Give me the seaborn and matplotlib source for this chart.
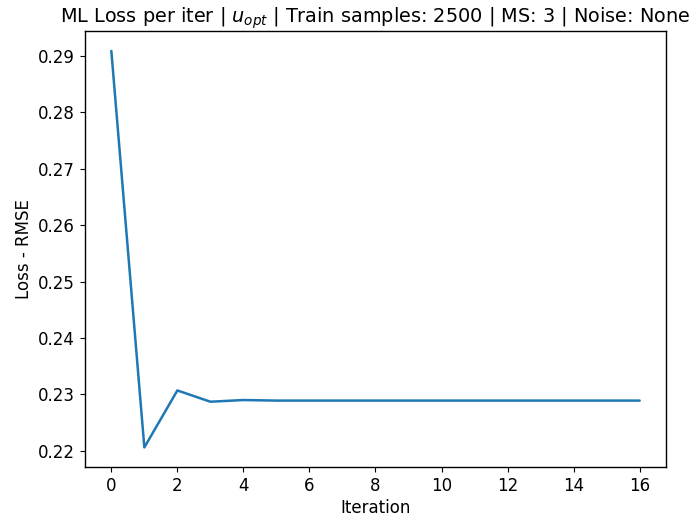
import numpy as np
import pandas as pd
import seaborn as sns
import matplotlib.pyplot as plt

# Loss values per iteration
iterations = list(range(17))
loss_rmse = [0.2909, 0.2206, 0.2307, 0.2287, 0.2290, 0.2289, 0.2289, 0.2289, 0.2289,
             0.2289, 0.2289, 0.2289, 0.2289, 0.2289, 0.2289, 0.2289, 0.2289]

data = pd.DataFrame({'Iteration': iterations, 'Loss': loss_rmse})

sns.set_style('ticks', {'text.color': 'black', 'axes.labelcolor': 'black',
                        'xtick.color': 'black', 'ytick.color': 'black',
                        'axes.edgecolor': 'black'})
plt.rcParams['font.family'] = ['DejaVu Sans']

fig, ax = plt.subplots(figsize=(6.96, 5.18), dpi=100)
sns.lineplot(x='Iteration', y='Loss', data=data, ax=ax, color='#1f77b4', linewidth=1.8)

ax.set_title(r'ML Loss per iter | $u_{opt}$ | Train samples: 2500 | MS: 3 | Noise: None',
             fontsize=13.9, color='black')
ax.set_xlabel('Iteration', fontsize=12, labelpad=3)
ax.set_ylabel('Loss - RMSE', fontsize=12)
ax.set_xticks(range(0, 17, 2))
ax.tick_params(labelsize=12)
for s in ax.spines.values():
    s.set_linewidth(1.0)

plt.subplots_adjust(left=0.122, right=0.957, top=0.940, bottom=0.098)
plt.savefig('out.png')
plt.close('all')
